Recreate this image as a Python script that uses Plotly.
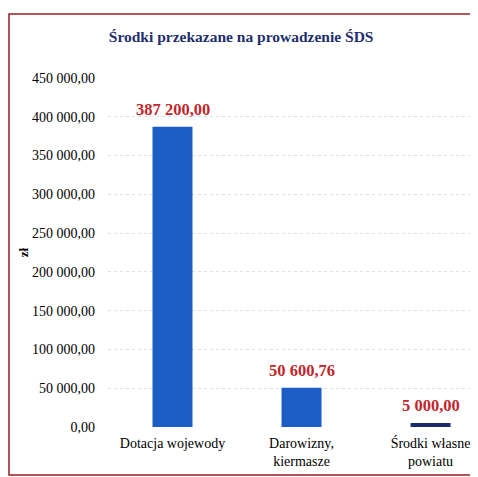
"""Bar chart — funds transferred for running the ŚDS."""
import plotly.graph_objects as go

# ── data ─────────────────────────────────────────────────────────────
categories = ["Dotacja wojewody", "Darowizny,<br>kiermasze", "Środki własne<br>powiatu"]
amounts = [387200.00, 50600.76, 5000.00]
bar_colors = ["#1d5ec6", "#1d5ec6", "#1f2a6e"]
tick_values = [0, 50000, 100000, 150000, 200000, 250000, 300000, 350000, 400000, 450000]

SERIF = "Liberation Serif"


def pl_money(v: float) -> str:
    # 387200.0 -> "387 200,00"
    s = f"{v:,.2f}"
    return s.replace(",", " ").replace(".", ",")


fig = go.Figure(go.Bar(
    x=list(range(len(categories))),
    y=amounts,
    marker_color=bar_colors,
    marker_line_width=0,
    width=0.31,
))

# value labels above the bars
for i, v in enumerate(amounts):
    fig.add_annotation(
        x=i, y=v, text=f"<b>{pl_money(v)}</b>", showarrow=False,
        yanchor="bottom", yshift=6,
        font=dict(family=SERIF, size=16.5, color="#c0262c"),
    )

# the page body adds an 8px margin, so the figure is 8px smaller than the window
fig.update_layout(
    width=470, height=469,
    paper_bgcolor="white", plot_bgcolor="white",
    margin=dict(l=100, r=0, t=70, b=50),
    showlegend=False,
    font=dict(family=SERIF, color="black"),
    title=dict(
        text="<b>Środki przekazane na prowadzenie ŚDS</b>",
        x=0.496, xanchor="center", y=0.94, yanchor="middle",
        font=dict(family=SERIF, size=15.5, color="#1f2f6e"),
    ),
    # red frame round the chart
    shapes=[dict(
        type="rect", xref="paper", yref="paper",
        x0=-0.2676, x1=1.05, y0=-0.1375, y1=1.1834,
        line=dict(color="#9b1c22", width=1.5), layer="below",
    )],
)

fig.update_xaxes(
    tickvals=list(range(len(categories))), ticktext=categories,
    range=[-0.5, 2.368], showgrid=False, zeroline=False, showline=False,
    ticks="", tickfont=dict(family=SERIF, size=14, color="black"),
    ticklabelstandoff=6, automargin=False,
)
fig.update_yaxes(
    range=[0, 450000], tickvals=tick_values,
    ticktext=[pl_money(v) for v in tick_values],
    tickfont=dict(family=SERIF, size=14, color="black"),
    showgrid=True, gridcolor="#dedede", griddash="dot", gridwidth=1,
    zeroline=False, showline=False, ticks="", ticklabelstandoff=12,
    title=dict(text="<b>zł</b>", font=dict(family=SERIF, size=13, color="black"), standoff=0),
    automargin=False,
)

fig.write_html("out.html")
